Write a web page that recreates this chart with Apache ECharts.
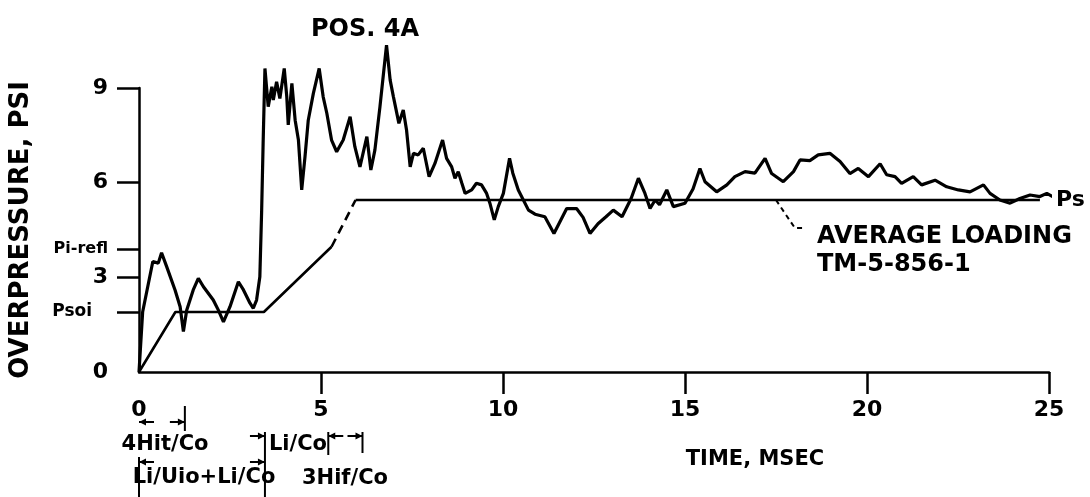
<!DOCTYPE html>
<html>
<head>
<meta charset="utf-8">
<script src="https://cdn.jsdelivr.net/npm/echarts@6/dist/echarts.min.js"></script>
<style>
  html, body { margin: 0; padding: 0; background: #fff; }
  #chart { width: 1090px; height: 497px; }
</style>
</head>
<body>
<div id="chart"></div>
<script>
// measured trace at POS. 4A, time in msec and overpressure in psi
const traceTime = [0, 0.10, 0.38, 0.53, 0.62, 0.76, 0.99, 1.13, 1.22, 1.31, 1.49, 1.63, 1.77, 2.04, 2.18, 2.32, 2.5, 2.73, 2.87, 3.05,
  3.14, 3.23, 3.32, 3.37, 3.41, 3.46, 3.55, 3.65, 3.69, 3.78, 3.87, 3.99, 4.06, 4.1, 4.2, 4.29, 4.38, 4.47, 4.56, 4.65,
  4.79, 4.95, 5.06, 5.16, 5.29, 5.43, 5.61, 5.8, 5.93, 6.07, 6.26, 6.37, 6.48, 6.62, 6.8, 6.9, 6.99, 7.14, 7.26, 7.35,
  7.45, 7.54, 7.67, 7.81, 7.97, 8.13, 8.34, 8.45, 8.59, 8.68, 8.77, 8.87, 8.96, 9.14, 9.27, 9.41, 9.55, 9.64, 9.76, 9.87,
  10.01, 10.18, 10.27, 10.42, 10.7, 10.88, 11.15, 11.4, 11.75, 12.02, 12.2, 12.39, 12.61, 12.83, 13.03, 13.27, 13.52, 13.72, 13.9, 14.04,
  14.18, 14.3, 14.5, 14.68, 15.0, 15.22, 15.41, 15.55, 15.87, 16.15, 16.37, 16.65, 16.92, 17.2, 17.38, 17.7, 17.98, 18.16, 18.43, 18.66,
  18.98, 19.26, 19.53, 19.76, 20.04, 20.36, 20.54, 20.77, 20.95, 21.27, 21.5, 21.87, 22.19, 22.51, 22.83, 23.2, 23.38, 23.65, 23.93, 24.2,
  24.48, 24.75, 24.94, 25.1];
const tracePsi = [0, 1.9, 3.5, 3.45, 3.78, 3.34, 2.6, 2.07, 1.28, 1.96, 2.6, 2.97, 2.7, 2.28, 1.96, 1.59, 2.07, 2.86, 2.6, 2.18,
  2.02, 2.28, 3.02, 5.13, 7.25, 9.62, 8.41, 9.04, 8.62, 9.2, 8.67, 9.62, 8.72, 7.83, 9.15, 7.98, 7.35, 5.77, 6.82, 7.98,
  8.83, 9.62, 8.72, 8.2, 7.35, 6.98, 7.35, 8.09, 7.14, 6.5, 7.46, 6.4, 7.03, 8.41, 10.36, 9.25, 8.72, 7.88, 8.3, 7.67,
  6.5, 6.93, 6.88, 7.09, 6.19, 6.61, 7.35, 6.77, 6.5, 6.14, 6.35, 5.98, 5.66, 5.77, 5.98, 5.93, 5.66, 5.35, 4.82, 5.24,
  5.66, 6.77, 6.3, 5.77, 5.13, 5.0, 4.92, 4.39, 5.18, 5.18, 4.9, 4.39, 4.7, 4.92, 5.13, 4.92, 5.5, 6.14, 5.66, 5.18,
  5.45, 5.3, 5.77, 5.24, 5.35, 5.8, 6.45, 6.03, 5.71, 5.93, 6.19, 6.35, 6.3, 6.77, 6.29, 6.03, 6.35, 6.72, 6.7, 6.88,
  6.93, 6.67, 6.29, 6.45, 6.19, 6.6, 6.25, 6.19, 5.98, 6.19, 5.93, 6.08, 5.87, 5.77, 5.71, 5.93, 5.66, 5.45, 5.35, 5.5,
  5.61, 5.56, 5.66, 5.56];

// average loading (TM-5-856-1)
const loadTime = [0, 1.0, 3.43, 5.29];
const loadPsi = [0, 1.9, 1.9, 3.97];
const dashTime = [5.29, 5.95];
const dashPsi = [3.97, 5.45];
const flatTime = [5.95, 24.75];
const flatPsi = [5.45, 5.45];
const leaderTime = [17.5, 18.02, 18.24];
const leaderPsi = [5.45, 4.56, 4.56];

// axis ticks
const xTickValues = [5, 10, 15, 20, 25];
const yTickValues = [0, 1.9, 3, 3.9, 6, 9];
const yTickLabels = ['0', 'Psoi', '3', 'Pi-refl', '6', '9'];

// time spans marked under the axis
const spanTimes = [0, 1.26, 3.46, 5.2, 6.14];

const zip = (xs, ys) => xs.map((x, i) => [x, ys[i]]);
const FONT = 'DejaVu Sans';

const chart = echarts.init(document.getElementById('chart'));

chart.setOption({
  animation: false,
  backgroundColor: '#fff',
  title: {
    text: 'POS. 4A',
    left: 306,
    top: 13,
    textStyle: { fontFamily: FONT, fontSize: 24, fontWeight: 'bold', color: '#000' }
  },
  grid: { left: 139, right: 41, top: 88, bottom: 125, outerBoundsMode: 'none', containLabel: false },
  xAxis: {
    type: 'value',
    min: 0,
    max: 25,
    interval: 5,
    splitLine: { show: false },
    axisLine: { lineStyle: { color: '#000', width: 2.5 } },
    axisTick: { customValues: xTickValues, length: 22, lineStyle: { color: '#000', width: 2.5 } },
    axisLabel: { margin: 27, fontFamily: FONT, fontSize: 22, fontWeight: 'bold', color: '#000' }
  },
  yAxis: {
    type: 'value',
    min: 0,
    max: 9,
    interval: 3,
    name: 'OVERPRESSURE, PSI',
    nameLocation: 'middle',
    nameRotate: 90,
    nameGap: 105,
    nameTextStyle: { fontFamily: FONT, fontSize: 26, fontWeight: 'bold', color: '#000' },
    splitLine: { show: false },
    axisLine: { show: true, lineStyle: { color: '#000', width: 2.5 } },
    axisTick: { show: true, customValues: yTickValues.filter(v => v > 0), length: 22, lineStyle: { color: '#000', width: 2.5 } },
    axisLabel: {
      customValues: yTickValues,
      margin: 31,
      formatter: v => {
        const lab = yTickLabels[yTickValues.indexOf(v)];
        if (lab === 'Psoi') return '{psoi|' + lab + '}';
        if (lab === 'Pi-refl') return '{refl|' + lab + '}';
        return '{num|' + lab + '}';
      },
      rich: {
        num: { fontFamily: FONT, fontSize: 22, fontWeight: 'bold', color: '#000' },
        psoi: { fontFamily: FONT, fontSize: 17, fontWeight: 'bold', color: '#000', padding: [0, 16, 0, 0] },
        refl: { fontFamily: FONT, fontSize: 16, fontWeight: 'bold', color: '#000' }
      }
    }
  },
  series: [
    {
      name: 'POS. 4A',
      type: 'line',
      data: zip(traceTime, tracePsi),
      showSymbol: false,
      clip: false,
      lineStyle: { color: '#000', width: 3.2 }
    },
    {
      name: 'load',
      type: 'line',
      data: zip(loadTime, loadPsi),
      showSymbol: false,
      lineStyle: { color: '#000', width: 2.6 }
    },
    {
      name: 'load dash',
      type: 'line',
      data: zip(dashTime, dashPsi),
      showSymbol: false,
      lineStyle: { color: '#000', width: 2.6, type: [9, 6] }
    },
    {
      name: 'Ps',
      type: 'line',
      data: zip(flatTime, flatPsi),
      showSymbol: false,
      lineStyle: { color: '#000', width: 2.6 },
      endLabel: {
        show: true,
        formatter: 'Ps',
        distance: 16,
        fontFamily: FONT, fontSize: 22, fontWeight: 'bold', color: '#000'
      }
    },
    {
      name: 'leader',
      type: 'line',
      data: zip(leaderTime, leaderPsi),
      showSymbol: false,
      lineStyle: { color: '#000', width: 2, type: [5, 4] }
    }
  ]
});

// annotations: text plus the span markers below the time axis
const px = t => chart.convertToPixel({ xAxisIndex: 0 }, t);
const txt = (s, x, y, size, align) => ({
  type: 'text', x: x, y: y,
  style: { text: s, fontFamily: FONT, fontSize: size, fontWeight: 'bold', fill: '#000', align: align || 'left', verticalAlign: 'middle' }
});
const bar = (t, y1, y2) => ({
  type: 'line', shape: { x1: px(t), y1: y1, x2: px(t), y2: y2 },
  style: { stroke: '#000', lineWidth: 2 }
});
const arrow = (t, dir, y) => {
  const tip = px(t);
  const tail = tip - dir * 15;
  return [
    { type: 'line', shape: { x1: tail, y1: y, x2: tip, y2: y }, style: { stroke: '#000', lineWidth: 2 } },
    { type: 'polygon', shape: { points: [[tip, y], [tip - dir * 7, y - 3.5], [tip - dir * 7, y + 3.5]] }, style: { fill: '#000' } }
  ];
};

chart.setOption({
  graphic: [
    txt('AVERAGE LOADING', 817, 237, 24),
    txt('TM-5-856-1', 817, 265, 24),
    txt('TIME, MSEC', 755, 460, 21, 'center'),
    txt('4Hit/Co', 165, 445, 21, 'center'),
    txt('Li/Co', 298, 445, 21, 'center'),
    txt('Li/Uio+Li/Co', 204, 478, 21, 'center'),
    txt('3Hif/Co', 345, 479, 21, 'center'),
    bar(spanTimes[1], 406, 431),
    bar(spanTimes[2], 432, 497),
    bar(spanTimes[3], 432, 455),
    bar(spanTimes[4], 432, 453),
    bar(spanTimes[0], 457, 497),
    ...arrow(spanTimes[0], -1, 422),
    ...arrow(spanTimes[1], 1, 422),
    ...arrow(spanTimes[2], 1, 436),
    ...arrow(spanTimes[3], -1, 436),
    ...arrow(spanTimes[4], 1, 436),
    ...arrow(spanTimes[0], -1, 462),
    ...arrow(spanTimes[2], 1, 462)
  ]
});
</script>
</body>
</html>
